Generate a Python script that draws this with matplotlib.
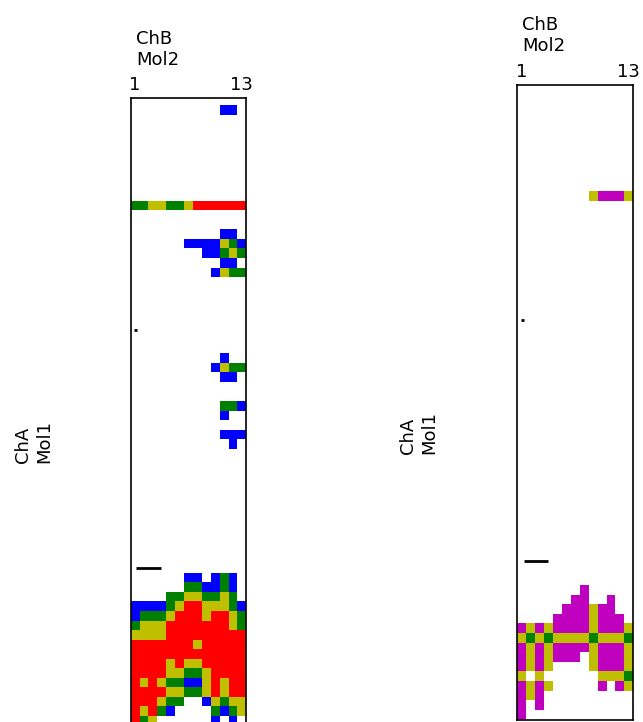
import numpy as np
import matplotlib.pyplot as plt
from matplotlib.colors import ListedColormap

# contact classes per residue pair: . none, b, g, y, r, m
codes = '.bgyrm'
class_colors = ['white', 'b', 'g', 'y', 'r', 'm']

n_cols = 13
col_labels = ['1', '13']

# ChA rows (Mol1) -> 13 ChB residues (Mol2)
left_rows = {
    0:  "..........bb.",
    10: "ggyyggyrrrrrr",
    13: "..........bb.",
    14: "......bbbbygb",
    15: "........bbgyg",
    16: "..........bb.",
    17: ".........bygg",
    26: "..........b..",
    27: ".........bygg",
    28: "..........bb.",
    31: "..........ggb",
    32: "..........b..",
    34: "..........bbb",
    35: "...........b.",
    49: "......bb.bgb.",
    50: "......ggbbgb.",
    51: "....ggyyggyg.",
    52: "bbbbgyrryyygb",
    53: "bgggyrrryrryg",
    54: "gyyyrrrrrrryg",
    55: "yyyyrrrrrrrrr",
    56: "rrrrrrryrrrrr",
    57: "rrrrrrrrrrrrr",
    58: "rrrryryyrrrrr",
    59: "rrrryyggyrrrr",
    60: "ryryggbbyryrr",
    61: "rrrryyggyryrr",
    62: "rrrygg..bygyy",
    63: "ryrgb....gbgy",
    64: "rgy......b.b.",
}

right_rows = {
    10: "........ymmmy",
    51: ".......m.....",
    52: "......mm..m..",
    53: ".....mmmymm..",
    54: "....mmmmymmm.",
    55: "mymymmmmymmmy",
    56: "ygygyyyygyyyg",
    57: "mymymmmmymmmy",
    58: "mymymmm.ymmmy",
    59: "mymy....ymmmy",
    60: "y.y......yyyg",
    61: "mymy.....m.my",
    62: "mym..........",
    63: "m.m..........",
    64: "m............",
}

# short separator marks: (row, x start, x end)
left_marks = [(23.55, 0.35, 0.7), (48.5, 0.63, 3.44)]
right_marks = [(23.4, 0.41, 0.75), (48.5, 0.75, 3.44)]


def build(rows, n_rows):
    grid = np.zeros((n_rows, n_cols), int)
    for r, s in rows.items():
        grid[r] = [codes.index(c) for c in s]
    return np.ma.masked_equal(grid, 0)


def draw(ax, rows, n_rows, ylim, marks):
    grid = build(rows, n_rows)
    cmap = ListedColormap(class_colors)
    ax.pcolormesh(np.arange(n_cols + 1), np.arange(n_rows + 1), grid,
                  cmap=cmap, vmin=-0.5, vmax=5.5,
                  edgecolors='none', antialiased=False)
    for y, x0, x1 in marks:
        ax.plot([x0, x1], [y, y], color='black', lw=2, solid_capstyle='butt')
    ax.set_xlim(0, n_cols)
    ax.set_ylim(*ylim)
    ax.xaxis.tick_top()
    ax.set_xticks([0.5, n_cols - 0.5])
    ax.set_xticklabels(col_labels, fontsize=13)
    ax.tick_params(axis='x', length=0, pad=3)
    ax.set_yticks([])
    for sp in ax.spines.values():
        sp.set_linewidth(1.2)


W, H = 643, 722
fig = plt.figure(figsize=(W / 100, H / 100), dpi=100)

# left panel: 9.54 px per row, top edge at row -0.765
ax1 = fig.add_axes([130.7 / W, 1 - 730.3 / H, 115.6 / W, 632.3 / H])
draw(ax1, left_rows, 66, (65.5, -0.765), left_marks)

# right panel: 9.6 px per row, top edge at row -1.09
ax2 = fig.add_axes([517.3 / W, 1 - 719.5 / H, 116 / W, 634.5 / H])
draw(ax2, right_rows, 65, (65, -1.09), right_marks)

fig.text(136 / W, 1 - 65 / H, "ChB\nMol2", fontsize=13, ha='left', va='baseline')
fig.text(522 / W, 1 - 51 / H, "ChB\nMol2", fontsize=13, ha='left', va='baseline')
fig.text(14 / W, 1 - 463 / H, "ChA\nMol1", fontsize=13, rotation=90,
         ha='left', va='bottom', multialignment='left')
fig.text(399 / W, 1 - 454 / H, "ChA\nMol1", fontsize=13, rotation=90,
         ha='left', va='bottom', multialignment='left')

fig.savefig('out.png', dpi=100)
